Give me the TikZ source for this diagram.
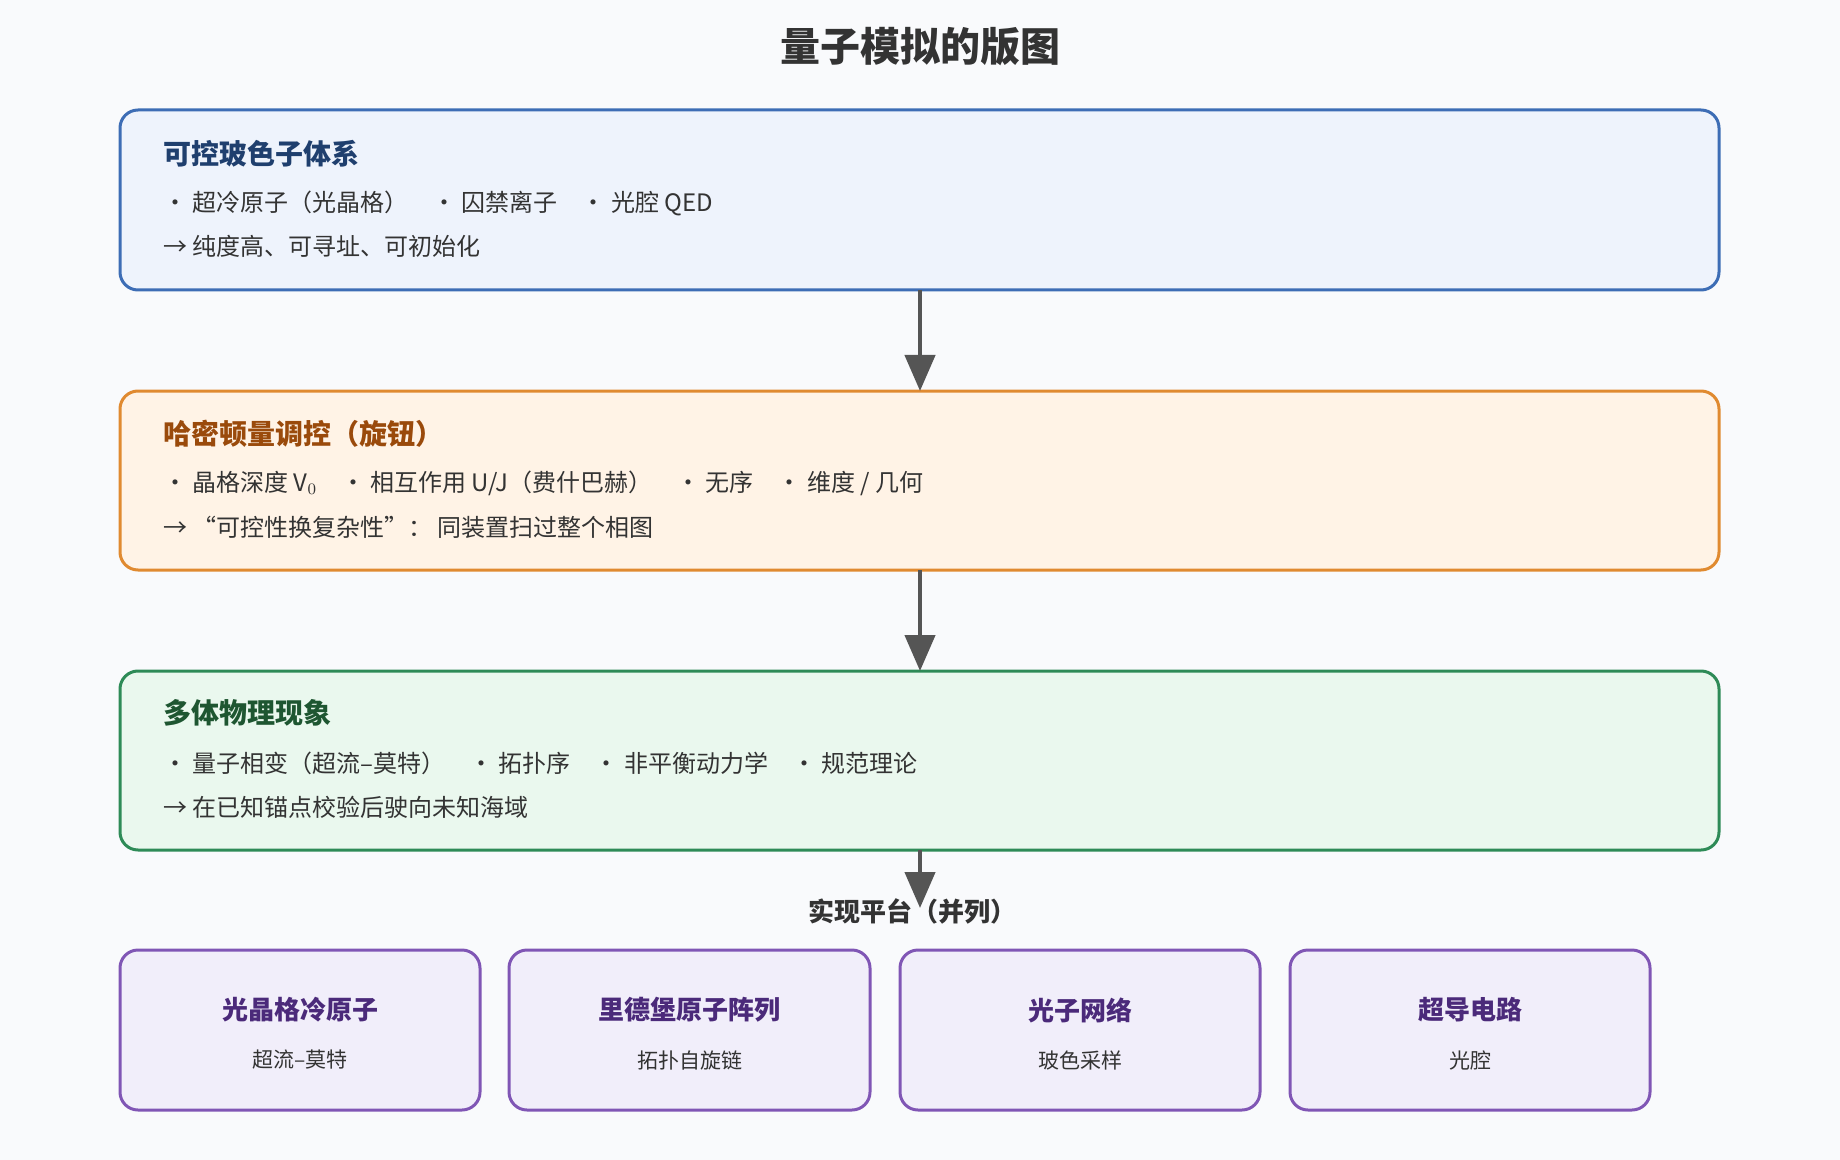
\documentclass[tikz,border=0pt]{standalone}
\usepackage{fontspec}
\setmainfont{Noto Sans CJK SC}
\usetikzlibrary{arrows.meta}
\definecolor{bg}{HTML}{F9FAFC}
\definecolor{fA}{HTML}{EEF3FC}\definecolor{dA}{HTML}{3D6DB5}\definecolor{hA}{HTML}{1F3F6E}
\definecolor{fB}{HTML}{FFF3E6}\definecolor{dB}{HTML}{E08A30}\definecolor{hB}{HTML}{9A4A0B}
\definecolor{fC}{HTML}{EAF8EE}\definecolor{dC}{HTML}{2E8B57}\definecolor{hC}{HTML}{1E5631}
\definecolor{fD}{HTML}{F1EEFA}\definecolor{dD}{HTML}{8056B5}\definecolor{hD}{HTML}{4B2A7A}
\definecolor{tx}{HTML}{333333}\definecolor{ar}{HTML}{555555}
\begin{document}
\begin{tikzpicture}[x=0.5pt,y=-0.5pt,
  box/.style={draw,line width=1.5pt,rounded corners=9pt},
  head/.style={anchor=west,font=\fontsize{14}{16}\selectfont\bfseries},
  body/.style={anchor=west,text=tx,font=\fontsize{12}{14}\selectfont},
  bt/.style={font=\fontsize{13}{15}\selectfont\bfseries,text=hD},
  bs/.style={font=\fontsize{10.5}{12}\selectfont,text=tx},
  arr/.style={draw=ar,line width=2.2pt,-{Triangle[length=18pt,width=15pt]}}]
\fill[bg] (0,0) rectangle (1840,1160);
\useasboundingbox (0,0) rectangle (1840,1160);
\node[font=\fontsize{20}{24}\selectfont\bfseries,text=tx] (title) at (920,47) {量子模拟的版图};
\draw[box,draw=dA,fill=fA] (120,110) rectangle (1719,290);
\coordinate (b1) at (920,290);
\node[head,text=hA] (h1) at (156,154) {可控玻色子体系};
\node[body] (l11) at (156,203) {· 超冷原子（光晶格）\quad · 囚禁离子\quad · 光腔 QED};
\node[body] (l12) at (156,246) {→ 纯度高、可寻址、可初始化};
\draw[box,draw=dB,fill=fB] (120,391) rectangle (1719,570);
\coordinate (t2) at (920,391);\coordinate (b2) at (920,570);
\node[head,text=hB] (h2) at (156,434) {哈密顿量调控（旋钮）};
\node[body] (l21) at (156,483) {· 晶格深度 V$_0$\quad · 相互作用 U/J（费什巴赫）\quad · 无序\quad · 维度 / 几何};
\node[body] (l22) at (156,527) {→ “可控性换复杂性”： 同装置扫过整个相图};
\draw[box,draw=dC,fill=fC] (120,671) rectangle (1719,850);
\coordinate (t3) at (920,671);\coordinate (b3) at (920,850);
\node[head,text=hC] (h3) at (156,713) {多体物理现象};
\node[body] (l31) at (156,763) {· 量子相变（超流–莫特）\quad · 拓扑序\quad · 非平衡动力学\quad · 规范理论};
\node[body] (l32) at (156,807) {→ 在已知锚点校验后驶向未知海域};
\draw[arr] (b1) -- (t2);
\draw[arr] (b2) -- (t3);
\coordinate (e4) at (920,908);
\draw[arr] (b3) -- (e4);
\node[font=\fontsize{13}{15}\selectfont\bfseries,text=tx] (plat) at (912,911) {实现平台（并列）};
\foreach \n/\xa/\xb/\t/\s in {p1/120/480/光晶格冷原子/超流–莫特 / 哈伯德, p2/509/870/里德堡原子阵列/拓扑自旋链, p3/900/1260/光子网络/玻色采样 / 线性光学, p4/1290/1650/超导电路 / 光腔/数字 \& 模拟混合}{
  \draw[box,draw=dD,fill=fD] (\xa,950) rectangle (\xb,1110);
  \node[bt] (\n t) at ({(\xa+\xb)/2},1010) {\t};
  \node[bs] (\n s) at ({(\xa+\xb)/2},1060) {\s};
}
\end{tikzpicture}
\end{document}
